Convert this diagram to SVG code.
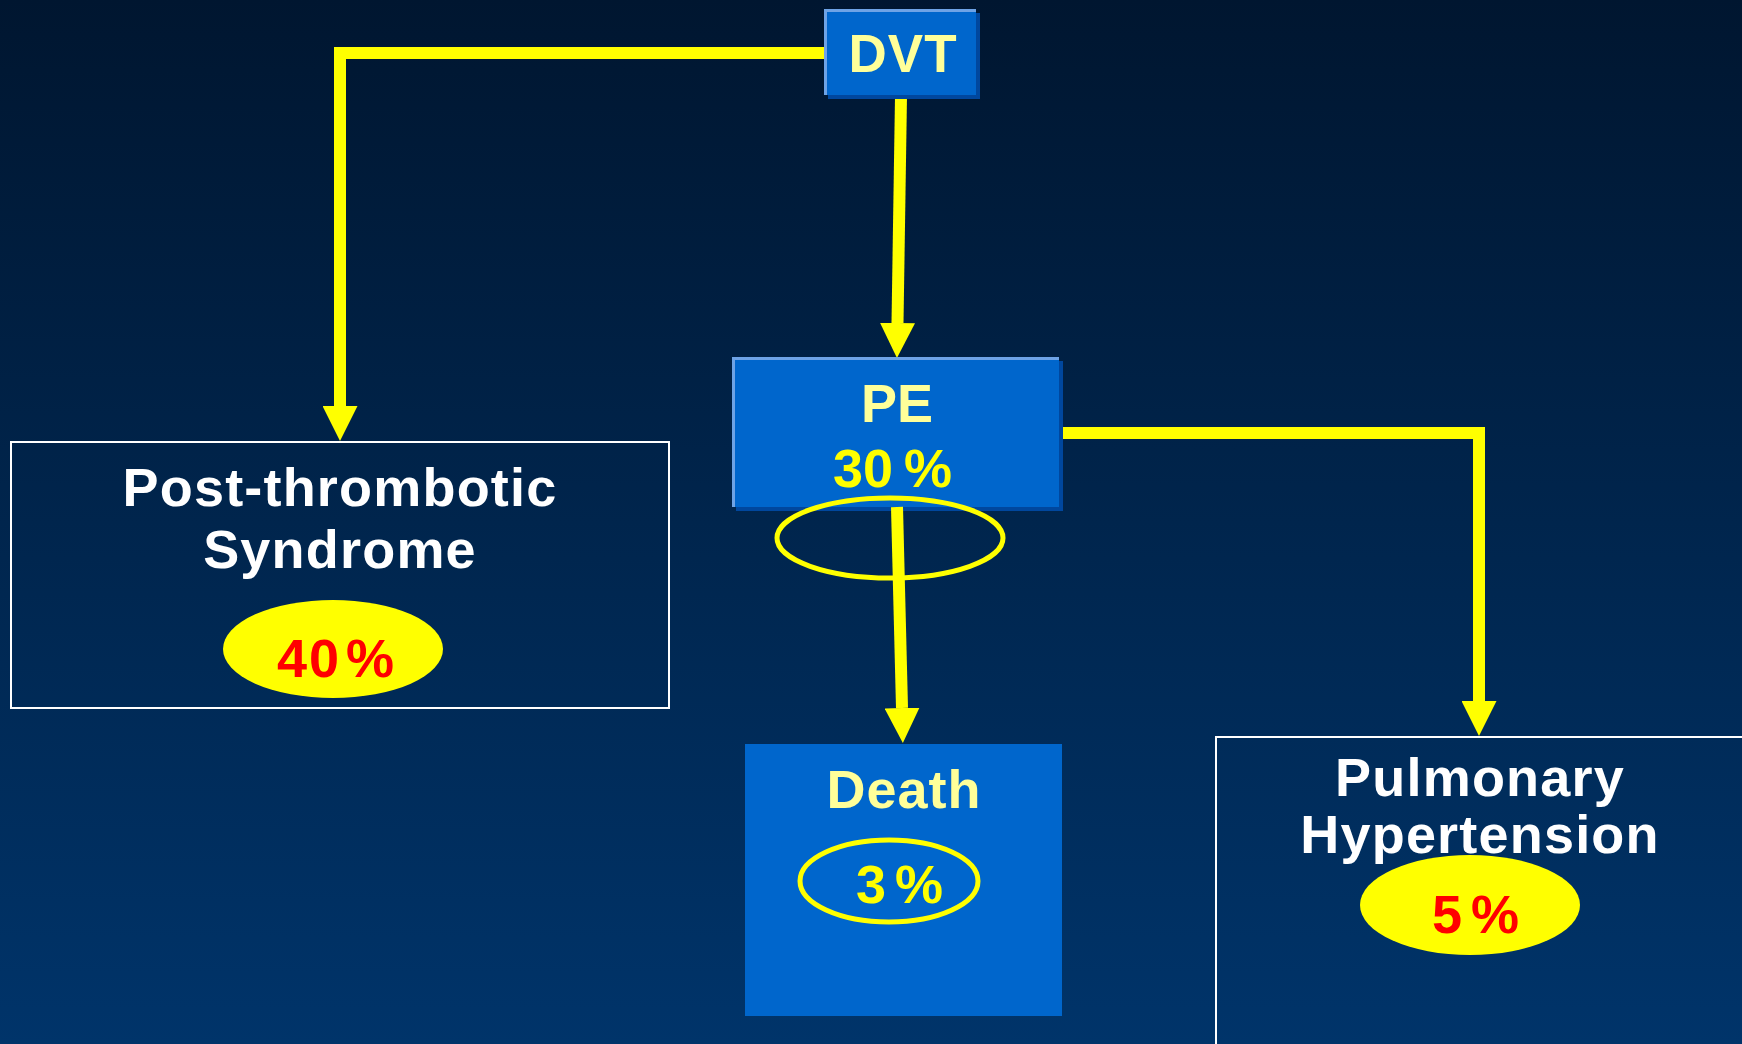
<svg xmlns="http://www.w3.org/2000/svg" width="1742" height="1044" viewBox="0 0 1742 1044">
<defs>
<linearGradient id="bg" x1="0" y1="0" x2="0" y2="1">
<stop offset="0" stop-color="#001630"/>
<stop offset="1" stop-color="#00346a"/>
</linearGradient>
<marker id="ah" viewBox="0 0 35 35" refX="0" refY="17.5" markerWidth="35" markerHeight="35" markerUnits="userSpaceOnUse" orient="auto">
<path d="M0,0 L35,17.5 L0,35 z" fill="#ffff00"/>
</marker>
</defs>
<style>
.t{font-family:"Liberation Sans",Arial,sans-serif;font-weight:bold;font-size:54px;text-anchor:middle}
.s{text-anchor:start}
.w{fill:#ffffff;letter-spacing:1.2px}
.ly{fill:#ffff99}
.y{fill:#ffff00}
.r{fill:#ff0000}
.blue{fill:#0066cc}
.shadow{fill:#00479e}
.edge{stroke:#6ea3e6;stroke-width:3;fill:none}
.outline{fill:none;stroke:#ffffff;stroke-width:2}
.conn{fill:none;stroke:#ffff00;stroke-width:12;stroke-linejoin:miter}
.ring{fill:none;stroke:#ffff00;stroke-width:5}
</style>
<rect x="0" y="0" width="1742" height="1044" fill="url(#bg)"/>

<g id="connectors">
<path class="conn" d="M824,53 H340 V406" marker-end="url(#ah)"/>
<path class="conn" d="M901,96 L897.5,323" marker-end="url(#ah)"/>
<path class="conn" d="M1059,433 H1479 V701" marker-end="url(#ah)"/>
</g>

<g id="dvt">
<rect class="shadow" x="828" y="13" width="152" height="86"/>
<rect class="blue" x="824" y="9" width="152" height="86"/>
<path class="edge" d="M825.5,95 V10.5 H976"/>
<text class="t ly" x="903" y="72" style="font-size:53px;letter-spacing:1px">DVT</text>
</g>

<g id="pe">
<rect class="shadow" x="736" y="361" width="327" height="150"/>
<rect class="blue" x="732" y="357" width="327" height="150"/>
<path class="edge" d="M733.5,507 V358.5 H1059"/>
<text class="t ly" x="897" y="422">PE</text>
<text class="t s y" x="833" y="487">30<tspan dx="11">%</tspan></text>
</g>

<g id="pe-death-connector">
<path class="conn" d="M897,507 L902,708" marker-end="url(#ah)"/>
<ellipse class="ring" cx="890" cy="538" rx="113" ry="40"/>
</g>

<g id="pts">
<rect class="outline" x="11" y="442" width="658" height="266"/>
<text class="t w" x="340" y="506">Post-thrombotic</text>
<text class="t w" x="340" y="568">Syndrome</text>
<ellipse cx="333" cy="649" rx="110" ry="49" fill="#ffff00"/>
<text class="t s r" x="277" y="677" style="letter-spacing:2px">40<tspan dx="5">%</tspan></text>
</g>

<g id="death">
<rect class="blue" x="745" y="744" width="317" height="272"/>
<text class="t ly" x="904" y="808" style="letter-spacing:1px">Death</text>
<ellipse class="ring" cx="889" cy="881" rx="89" ry="41"/>
<text class="t s y" x="856" y="903">3<tspan dx="9">%</tspan></text>
</g>

<g id="ph">
<rect class="outline" x="1216" y="737" width="560" height="340"/>
<text class="t w" x="1480" y="796">Pulmonary</text>
<text class="t w" x="1480" y="853">Hypertension</text>
<ellipse cx="1470" cy="905" rx="110" ry="50" fill="#ffff00"/>
<text class="t s r" x="1432" y="933">5<tspan dx="9">%</tspan></text>
</g>
</svg>
